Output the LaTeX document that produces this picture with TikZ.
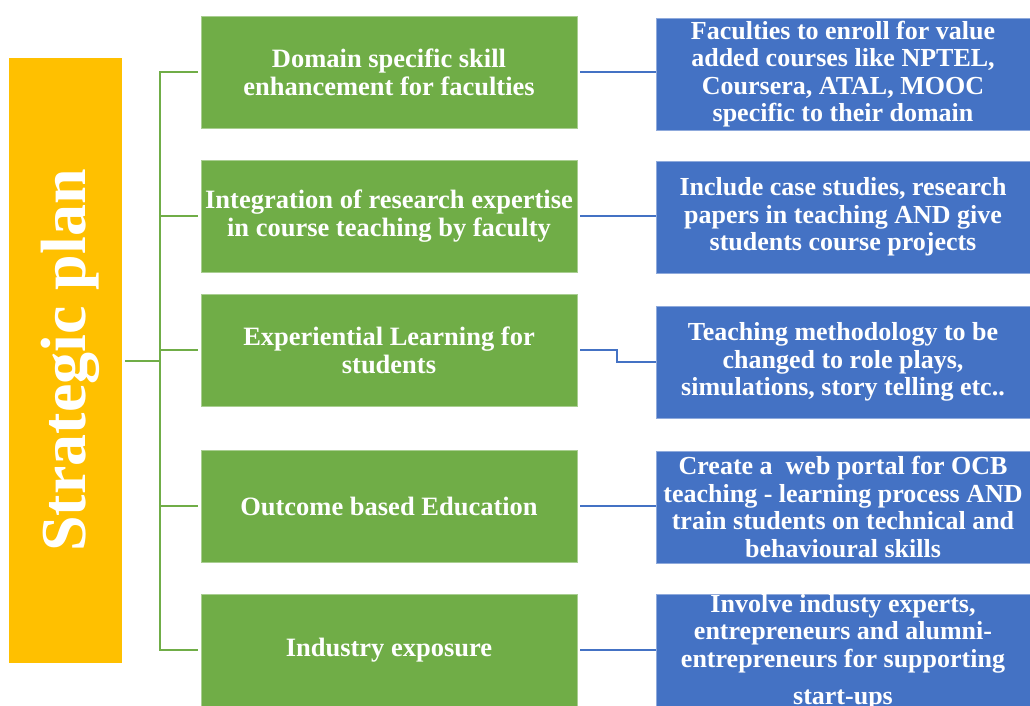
\documentclass[tikz,border=0pt]{standalone}
\usepackage{fontspec}
\setmainfont{Liberation Serif}
\definecolor{planyellow}{HTML}{FFC000}
\definecolor{stepgreen}{HTML}{70AD47}
\definecolor{actblue}{HTML}{4472C4}
\tikzset{
  greenbox/.style={rectangle, fill=stepgreen, draw=stepgreen!60!white, line width=0.8pt,
    minimum width=376pt, minimum height=112pt, inner sep=0pt, text=white, align=center,
    font=\bfseries\fontsize{26.5}{28}\selectfont},
  bluebox/.style={rectangle, fill=actblue, draw=actblue!60!white, line width=0.8pt,
    minimum width=374pt, minimum height=112pt, inner sep=0pt, text=white, align=center,
    font=\bfseries\fontsize{26}{27.5}\selectfont},
  branch/.style={stepgreen, line width=2pt},
  link/.style={actblue, line width=2pt}
}
\begin{document}
\begin{tikzpicture}[x=1pt, y=-1pt]
  \useasboundingbox (0,0) rectangle (1030,706);
  \node[rectangle, fill=planyellow, minimum width=113pt, minimum height=605pt] (plan) at (65.5,360.5) {};
  \node[text=white, font=\bfseries\fontsize{64}{64}\selectfont, rotate=90] (plantext) at ([xshift=5pt]plan.center) {Strategic plan};
  \node[greenbox] (g1) at (389,72) {Domain specific skill\\enhancement for faculties};
  \node[greenbox] (g2) at (389,216) {Integration of research expertise\\in course teaching by faculty};
  \node[greenbox] (g3) at (389,350) {Experiential Learning for\\students};
  \node[greenbox] (g4) at (389,506) {Outcome based Education};
  \node[greenbox] (g5) at (389,650) {Industry exposure};
  \node[bluebox] (b1) at (843,74) {Faculties to enroll for value\\added courses like NPTEL,\\Coursera, ATAL, MOOC\\specific to their domain};
  \node[bluebox] (b2) at (843,217) {Include case studies, research\\papers in teaching AND give\\students course projects};
  \node[bluebox] (b3) at (843,362) {Teaching methodology to be\\changed to role plays,\\simulations, story telling etc..};
  \node[bluebox] (b4) at (843,507) {Create a~ web portal for OCB\\teaching - learning process AND\\train students on technical and\\behavioural skills};
  \node[bluebox] (b5) at (843,652) {Involve industy experts,\\entrepreneurs and alumni-\\entrepreneurs for supporting\\[10pt]start-ups};
  \coordinate (trunk) at (160,360.5);
  \draw[branch, shorten <=3pt] (plan.east) -- (trunk);
  \draw[branch, shorten >=3pt] (trunk) |- (g1.west);
  \draw[branch, shorten >=3pt] (trunk) |- (g2.west);
  \draw[branch, shorten >=3pt] (trunk) |- (g3.west);
  \draw[branch, shorten >=3pt] (trunk) |- (g4.west);
  \draw[branch, shorten >=3pt] (trunk) |- (g5.west);
  \draw[link, shorten <=3pt] (g1.east) -- (g1.east -| b1.west);
  \draw[link, shorten <=3pt] (g2.east) -- (g2.east -| b2.west);
  \draw[link, shorten <=3pt] (g3.east) -- ([xshift=40pt]g3.east) |- (b3.west);
  \draw[link, shorten <=3pt] (g4.east) -- (g4.east -| b4.west);
  \draw[link, shorten <=3pt] (g5.east) -- (g5.east -| b5.west);
\end{tikzpicture}
\end{document}
